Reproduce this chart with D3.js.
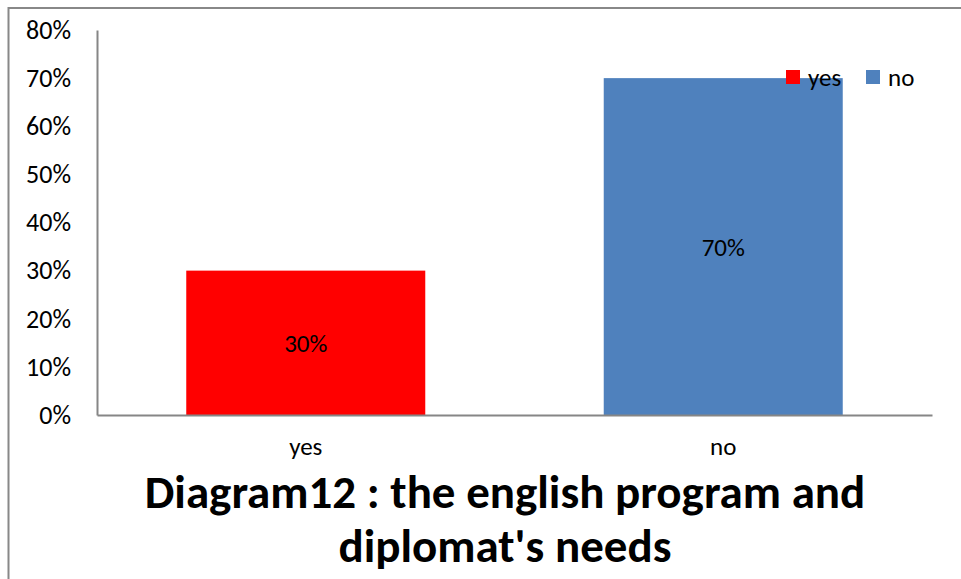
<!DOCTYPE html>
<html>
<head>
<meta charset="utf-8">
<script src="https://cdn.jsdelivr.net/npm/d3@7"></script>
<style>
  body { margin: 0; background: #fff; }
  text { font-family: Carlito, Calibri, Lato, sans-serif; fill: #000; }
</style>
</head>
<body>
<div id="chart"></div>
<script>
// data
const categories = ["yes", "no"];
const values = [0.30, 0.70];
const colors = ["#ff0000", "#4f81bd"];
const yTicks = [0, 0.1, 0.2, 0.3, 0.4, 0.5, 0.6, 0.7, 0.8];
const titleLines = ["Diagram12 : the english program and", "diplomat's needs"];

var W = 961, H = 579;
var margin = { top: 30, right: 29, bottom: 164, left: 97 },
  width = W - margin.left - margin.right,
  height = H - margin.top - margin.bottom;

var svgRoot = d3.select("#chart").append("svg")
  .attr("width", W)
  .attr("height", H);

// outer chart frame (runs off right and bottom edge)
svgRoot.append("rect")
  .attr("x", 8.5).attr("y", 8)
  .attr("width", W + 20).attr("height", H + 20)
  .attr("fill", "none")
  .attr("stroke", "#888")
  .attr("stroke-width", 2);

var svg = svgRoot.append("g")
  .attr("transform", "translate(" + margin.left + "," + margin.top + ")");

var x = d3.scaleBand()
  .domain(categories)
  .range([0, width])
  .paddingInner(0.4275)
  .paddingOuter(0.2138);

var y = d3.scaleLinear()
  .domain([0, 0.8])
  .range([height, 0]);

// bars
svg.selectAll("rect.bar")
  .data(values)
  .enter().append("rect")
  .attr("class", "bar")
  .attr("x", (d, i) => x(categories[i]))
  .attr("y", d => y(d))
  .attr("width", x.bandwidth())
  .attr("height", d => height - y(d))
  .attr("fill", (d, i) => colors[i]);

// data labels in middle of bars
svg.selectAll("text.dl")
  .data(values)
  .enter().append("text")
  .attr("class", "dl")
  .attr("x", (d, i) => x(categories[i]) + x.bandwidth() / 2)
  .attr("y", d => (y(d) + height) / 2 + 3)
  .attr("text-anchor", "middle")
  .attr("dominant-baseline", "middle")
  .attr("font-size", "25px")
  .text(d => d3.format(".0%")(d));

// y axis
var yAxis = d3.axisLeft(y)
  .tickValues(yTicks)
  .tickFormat(d3.format(".0%"))
  .tickSize(0)
  .tickPadding(26);

var yg = svg.append("g").call(yAxis);
yg.select(".domain").attr("stroke", "#868686").attr("stroke-width", 2);
yg.selectAll("text").attr("font-size", "26px").attr("font-family", null);

// x axis
var xAxis = d3.axisBottom(x).tickSize(0).tickPadding(22);
var xg = svg.append("g")
  .attr("transform", "translate(0," + height + ")")
  .call(xAxis);
xg.select(".domain").attr("stroke", "#868686").attr("stroke-width", 2);
xg.selectAll("text").attr("font-size", "25px").attr("font-family", null);

// legend
var legend = svgRoot.append("g").attr("transform", "translate(786,70)");
var lg = legend.selectAll("g")
  .data(categories)
  .enter().append("g")
  .attr("transform", (d, i) => "translate(" + (i * 80) + ",0)");
lg.append("rect")
  .attr("width", 14).attr("height", 14)
  .attr("fill", (d, i) => colors[i]);
lg.append("text")
  .attr("x", 22).attr("y", 16)
  .attr("font-size", "25px")
  .text(d => d);

// title
svgRoot.selectAll("text.title")
  .data(titleLines)
  .enter().append("text")
  .attr("class", "title")
  .attr("x", 505)
  .attr("y", (d, i) => 508 + i * 54)
  .attr("text-anchor", "middle")
  .attr("font-size", "47px")
  .attr("font-weight", "bold")
  .text(d => d);
</script>
</body>
</html>
